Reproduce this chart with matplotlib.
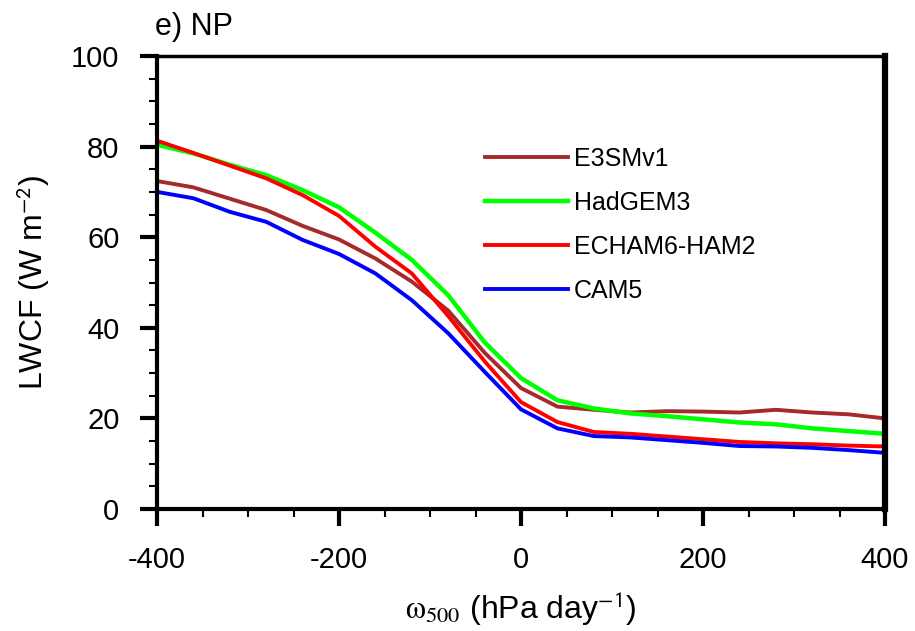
import numpy as np
import matplotlib.pyplot as plt

plt.rcParams['font.family'] = ['Liberation Sans', 'DejaVu Sans']
plt.rcParams['mathtext.fontset'] = 'stix'
plt.rcParams['axes.unicode_minus'] = False

# omega500 bins (hPa/day)
omega = [-400, -360, -320, -280, -240, -200, -160, -120, -80, -40, 0,
         40, 80, 120, 160, 200, 240, 280, 320, 360, 400]

e3smv1 = [72.4, 71.0, 68.5, 66.0, 62.5, 59.5, 55.3, 50.2, 43.8, 34.5, 26.7,
          22.6, 21.9, 21.3, 21.6, 21.5, 21.3, 21.9, 21.3, 20.9, 20.0]
hadgem3 = [80.4, 78.5, 76.0, 73.7, 70.4, 66.6, 61.0, 55.0, 47.2, 36.8, 28.9,
           24.0, 22.2, 21.1, 20.5, 19.8, 19.1, 18.7, 17.8, 17.2, 16.6]
echam6 = [81.3, 78.6, 75.8, 73.0, 69.3, 64.7, 57.9, 52.0, 42.6, 32.6, 23.6,
          19.2, 17.0, 16.6, 16.0, 15.4, 14.8, 14.5, 14.3, 14.0, 13.8]
cam5 = [70.0, 68.6, 65.6, 63.4, 59.4, 56.3, 52.0, 46.1, 38.8, 30.3, 22.0,
        17.8, 16.1, 15.8, 15.2, 14.6, 13.9, 13.8, 13.5, 13.0, 12.4]

models = ['E3SMv1', 'HadGEM3', 'ECHAM6-HAM2', 'CAM5']
series = [e3smv1, hadgem3, echam6, cam5]
colors = ['#a52a2a', '#00ff00', '#ff0000', '#0000ff']
widths = [2.8, 3.2, 2.8, 2.8]

fig = plt.figure(figsize=(9.15, 6.31), dpi=100)
ax = fig.add_axes([157/915, 1-509/631, (885-157)/915, (509-56)/631])

for name, vals, col, lw in zip(models, series, colors, widths):
    ax.plot(omega, vals, color=col, lw=lw, label=name)

ax.set_xlim(-400, 400)
ax.set_ylim(0, 100)
ax.set_xticks(np.arange(-400, 401, 200))
ax.set_xticks(np.arange(-400, 401, 50), minor=True)
ax.set_yticks(np.arange(0, 101, 20))
ax.set_yticks(np.arange(0, 101, 5), minor=True)
ax.tick_params(which='major', direction='out', length=12, width=3,
               labelsize=21, pad=15)
ax.tick_params(which='minor', direction='out', length=5.5, width=1.5)
ax.tick_params(top=False, right=False, which='both')

for side in ['left', 'bottom']:
    ax.spines[side].set_linewidth(3)
ax.spines['top'].set_linewidth(2.5)
ax.spines['right'].set_linewidth(4.5)

ax.set_ylabel('LWCF (W m$^{\\mathsf{-2}}$)', fontsize=23, labelpad=14)
ax.set_xlabel('$\\mathrm{ω}_{500}$ (hPa day$^{\\mathsf{-1}}$)', fontsize=23,
              labelpad=11)
fig.text(155/915, 1-27/631, 'e) NP', fontsize=22, va='center', ha='left')

ax.legend(loc='upper left', bbox_to_anchor=(485/915, 1-147/631),
          bbox_transform=fig.transFigure, frameon=False, fontsize=18,
          handlelength=3.3, handletextpad=0.25, labelspacing=0.8,
          borderpad=0, borderaxespad=0)

fig.savefig('out.png', dpi=100)
